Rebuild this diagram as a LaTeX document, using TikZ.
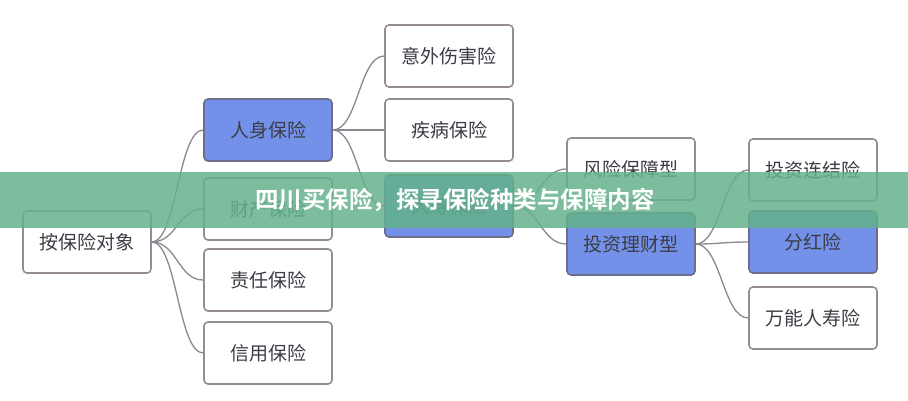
\documentclass[tikz,border=0pt]{standalone}
\usepackage{fontspec}
\newfontfamily\cjk{Noto Sans CJK SC}
\newfontfamily\cjkb{Noto Sans CJK SC Bold}
\begin{document}
\begin{tikzpicture}[x=1pt,y=-1pt,
  box/.style={draw=boxc,line width=1.6pt,rounded corners=4pt,fill=white,minimum width=128pt,minimum height=62pt,font=\cjk\fontsize{19}{19}\selectfont,text=txtc},
  blue/.style={box,fill=bluec,draw=bluedc},
  con/.style={draw=linec,line width=1.3pt}]
\definecolor{boxc}{RGB}{150,140,150}
\definecolor{bluec}{RGB}{115,145,232}
\definecolor{bluedc}{RGB}{110,110,140}
\definecolor{txtc}{RGB}{60,60,70}
\definecolor{linec}{RGB}{140,135,145}
\definecolor{banc}{RGB}{100,178,140}
\useasboundingbox (0,0) rectangle (908,400);
\fill[white] (0,0) rectangle (908,400);
\node[box] (root) at (87,242) {按保险对象};
\node[blue] (rs) at (268,130) {人身保险};
\node[box] (cc) at (268,209) {财产保险};
\node[box] (zr) at (268,280) {责任保险};
\node[box] (xy) at (268,353) {信用保险};
\node[box] (yw) at (449,56) {意外伤害险};
\node[box] (jb) at (449,130) {疾病保险};
\node[blue] (rsh) at (449,206) {人寿保险};
\node[box] (fx) at (631,169) {风险保障型};
\node[blue] (tz) at (631,244) {投资理财型};
\node[box] (tl) at (813,170) {投资连结险};
\node[blue] (fh) at (813,242) {分红险};
\node[box] (wn) at (813,318) {万能人寿险};
\foreach \c in {rs,cc,zr,xy} \draw[con] (root.east) .. controls +(25,0) and +(-25,0) .. (\c.west);
\foreach \c in {yw,jb,rsh} \draw[con] (rs.east) .. controls +(25,0) and +(-25,0) .. (\c.west);
\foreach \c in {fx,tz} \draw[con] (rsh.east) .. controls +(25,0) and +(-25,0) .. (\c.west);
\foreach \c in {tl,fh,wn} \draw[con] (tz.east) .. controls +(25,0) and +(-25,0) .. (\c.west);
\fill[banc,opacity=0.85] (0,172) rectangle (908,228);
\node[text=white,font=\cjkb\fontsize{23.5}{24}\selectfont] (ban) at (455,200) {四川买保险，探寻保险种类与保障内容};
\end{tikzpicture}
\end{document}
